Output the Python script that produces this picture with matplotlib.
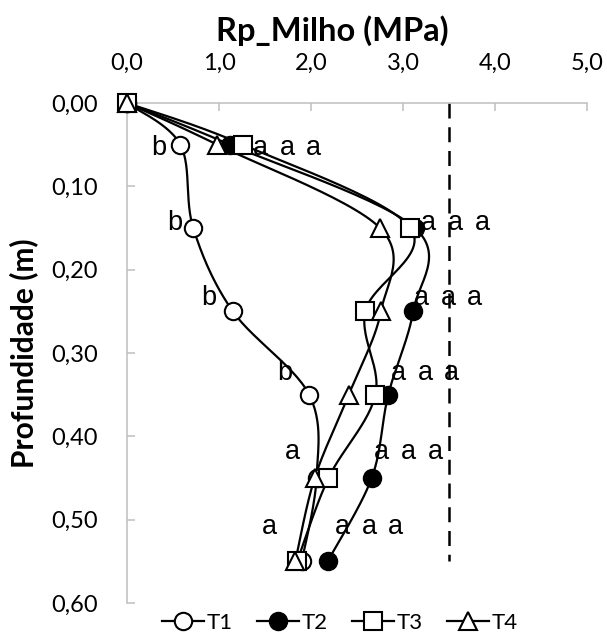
import numpy as np
import matplotlib
matplotlib.use("Agg")
import matplotlib.pyplot as plt
from matplotlib.ticker import FuncFormatter

# profundidade (m) e resistencia a penetracao (MPa)
depth = [0.00, 0.05, 0.15, 0.25, 0.35, 0.45, 0.55]
t1 = [0.00, 0.58, 0.72, 1.15, 1.98, 2.06, 1.90]
t2 = [0.00, 1.12, 3.13, 3.11, 2.84, 2.66, 2.18]
t3 = [0.00, 1.26, 3.08, 2.59, 2.70, 2.19, 1.85]
t4 = [0.00, 0.98, 2.75, 2.76, 2.41, 2.04, 1.83]
limit = 3.5
limit_depth = [0.00, 0.55]

# letras de significancia por camada
sig_t1 = ["b", "b", "b", "b", "a", "a"]
sig_t2 = ["a", "a", "a", "a", "a", "a"]
sig_t3 = ["a", "a", "a", "a", "a", "a"]
sig_t4 = ["a", "a", "a", "a", "a", "a"]

# posicoes das letras (layout)
lab_y = [0.054, 0.144, 0.234, 0.324, 0.419, 0.509]
lab_x_t1 = [0.34, 0.52, 0.89, 1.71, 1.80, 1.55]
lab_x_rest = [1.45, 3.28, 3.20, 2.95, 2.77, 2.34]
lab_step = 0.29


def smooth(x, y, n=30):
    # bezier estilo Excel (catmull-rom uniforme)
    p = np.column_stack([x, y]).astype(float)
    pts = [p[0]]
    m = len(p)
    for i in range(m - 1):
        p0 = p[i - 1] if i > 0 else p[i]
        p1 = p[i]
        p2 = p[i + 1]
        p3 = p[i + 2] if i + 2 < m else p[i + 1]
        c1 = p1 + (p2 - p0) / 6.0
        c2 = p2 - (p3 - p1) / 6.0
        t = np.linspace(0, 1, n)[1:, None]
        seg = ((1 - t) ** 3) * p1 + 3 * ((1 - t) ** 2) * t * c1 + 3 * (1 - t) * t ** 2 * c2 + t ** 3 * p2
        pts.extend(seg)
    pts = np.array(pts)
    return pts[:, 0], pts[:, 1]


W, H = 607, 635
fig = plt.figure(figsize=(W / 100, H / 100), dpi=100)
ax = fig.add_axes([127 / W, 1 - 603 / H, 460 / W, 500 / H])

calib = "Lato"
gray = "#BFBFBF"

series = [
    ("T1", t1, dict(marker="o", mfc="white")),
    ("T2", t2, dict(marker="o", mfc="black")),
    ("T3", t3, dict(marker="s", mfc="white")),
    ("T4", t4, dict(marker="^", mfc="white")),
]

handles = []
for name, vals, st in series:
    sx, sy = smooth(vals, depth)
    ax.plot(sx, sy, color="black", lw=1.6, zorder=3)
    ax.plot(vals, depth, ls="none", mec="black", mew=1.5, ms=12.5, zorder=4,
            clip_on=False, **st)
    h, = ax.plot([], [], color="black", lw=1.6, mec="black", mew=1.5, ms=12.5, **st)
    handles.append((h, name))

ax.plot([limit, limit], limit_depth, color="black", lw=1.8,
        ls=(0, (6, 3.5)), zorder=2)

# letras
for i, y in enumerate(lab_y):
    ax.text(lab_x_t1[i], y, sig_t1[i], ha="center", va="center",
            fontsize=19.5, family="Liberation Sans", zorder=5)
    for j, sig in enumerate([sig_t2, sig_t3, sig_t4]):
        ax.text(lab_x_rest[i] + j * lab_step, y, sig[i], ha="center", va="center",
                fontsize=19.5, family="Liberation Sans", zorder=5)

ax.set_xlim(0, 5)
ax.set_ylim(0.6, 0)
ax.set_xticks(np.arange(0, 5.01, 1.0))
ax.set_yticks(np.arange(0, 0.601, 0.1))
ax.xaxis.tick_top()
ax.xaxis.set_major_formatter(FuncFormatter(lambda v, p: f"{v:.1f}".replace(".", ",")))
ax.yaxis.set_major_formatter(FuncFormatter(lambda v, p: f"{v:.2f}".replace(".", ",")))
ax.tick_params(axis="both", direction="in", length=6, width=1.1, color=gray,
               labelsize=17, pad=21)
for lab in ax.get_xticklabels() + ax.get_yticklabels():
    lab.set_family(calib)

for s in ["right", "bottom"]:
    ax.spines[s].set_visible(False)
for s in ["top", "left"]:
    ax.spines[s].set_color(gray)
    ax.spines[s].set_linewidth(1.1)

fig.text(332 / W, 1 - 31 / H, "Rp_Milho (MPa)", ha="center", va="center",
         fontsize=23.5, fontweight="bold", family=calib)
fig.text(24 / W, 1 - 353 / H, "Profundidade (m)", ha="center", va="center",
         rotation=90, fontsize=21.5, fontweight="bold", family=calib)

fig.legend([h for h, _ in handles], [n for _, n in handles], loc="center",
           bbox_to_anchor=(340 / W, 1 - 623 / H), ncol=4, frameon=False,
           prop={"family": calib, "size": 16}, handlelength=1.9,
           handletextpad=0.1, columnspacing=1.1, borderaxespad=0)

fig.savefig("out.png", dpi=100)
